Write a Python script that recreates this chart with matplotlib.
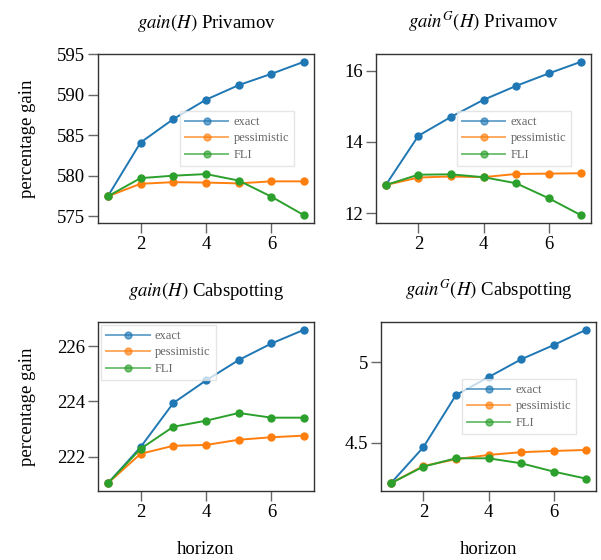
import numpy as np
import matplotlib
matplotlib.use("Agg")
import matplotlib.pyplot as plt
from matplotlib.ticker import MultipleLocator, FormatStrFormatter

plt.rcParams['font.family'] = ['Liberation Serif', 'DejaVu Serif']
plt.rcParams['mathtext.fontset'] = 'stix'
plt.rcParams['font.size'] = 13.5

# horizonte
horizon = [1, 2, 3, 4, 5, 6, 7]

# gain(H) Privamov
priv_exact = [577.45, 584.1, 587.0, 589.4, 591.2, 592.6, 594.1]
priv_pess = [577.45, 579.0, 579.2, 579.15, 579.05, 579.3, 579.3]
priv_fli = [577.45, 579.7, 580.0, 580.2, 579.4, 577.4, 575.1]

# gain^G(H) Privamov
privg_exact = [12.79, 14.17, 14.70, 15.18, 15.57, 15.92, 16.25]
privg_pess = [12.79, 13.00, 13.03, 13.01, 13.10, 13.11, 13.12]
privg_fli = [12.79, 13.08, 13.09, 13.01, 12.84, 12.42, 11.94]

# gain(H) Cabspotting
cab_exact = [221.03, 222.34, 223.94, 224.76, 225.50, 226.10, 226.60]
cab_pess = [221.03, 222.10, 222.39, 222.42, 222.61, 222.70, 222.76]
cab_fli = [221.03, 222.28, 223.08, 223.30, 223.58, 223.41, 223.41]

# gain^G(H) Cabspotting
cabg_exact = [4.246, 4.471, 4.796, 4.908, 5.019, 5.108, 5.204]
cabg_pess = [4.246, 4.354, 4.396, 4.423, 4.440, 4.448, 4.454]
cabg_fli = [4.246, 4.350, 4.402, 4.402, 4.371, 4.319, 4.275]

etiquetas = ["exact", "pessimistic", "FLI"]
colores = ["#1f77b4", "#ff7f0e", "#2ca02c"]

paneles = [
    (r"$gain(H)$ Privamov", [priv_exact, priv_pess, priv_fli], 5, "center right"),
    (r"$gain^G(H)$ Privamov", [privg_exact, privg_pess, privg_fli], 2, "center right"),
    (r"$gain(H)$ Cabspotting", [cab_exact, cab_pess, cab_fli], 2, "upper left"),
    (r"$gain^G(H)$ Cabspotting", [cabg_exact, cabg_pess, cabg_fli], 0.5, "center right"),
]

# posiciones en pixeles (izq, arriba, ancho, alto)
W, H = 601, 560
posiciones = [(98, 54, 216, 169), (376, 54, 215, 169),
              (98, 322, 216, 169), (381, 322, 215, 169)]

fig = plt.figure(figsize=(W / 100, H / 100), dpi=100)

for i, (titulo, series, paso, loc) in enumerate(paneles):
    x0, y0, w, h = posiciones[i]
    ax = fig.add_axes([x0 / W, (H - y0 - h) / H, w / W, h / H])
    for serie, etiqueta, color in zip(series, etiquetas, colores):
        ax.plot(horizon, serie, '-o', color=color, lw=1.4, ms=5, label=etiqueta)
    ax.set_title(titulo, fontsize=13.5, pad=19)
    ax.xaxis.set_major_locator(MultipleLocator(2))
    ax.yaxis.set_major_locator(MultipleLocator(paso))
    ax.yaxis.set_major_formatter(FormatStrFormatter("%g"))
    ax.tick_params(direction='out', length=7.5, width=1, color='#666666', pad=2,
                   labelsize=13.5)
    for sp in ax.spines.values():
        sp.set_color('#333333')
        sp.set_linewidth(1)
    if i % 2 == 0:
        ax.set_ylabel("percentage gain", fontsize=13.5, labelpad=15)
    if i >= 2:
        ax.set_xlabel("horizon", fontsize=13.5, labelpad=14)
    pad = 0.25 if loc == "upper left" else 1.6
    leg = ax.legend(loc=loc, fontsize=9, handlelength=3.5, handletextpad=0.4,
                    labelspacing=0.35, borderaxespad=pad, fancybox=False,
                    framealpha=0.75, edgecolor='#dddddd')
    for t in leg.get_texts():
        t.set_color('#666666')
    for lh in leg.get_lines():
        lh.set_alpha(0.65)

fig.savefig("out.png", dpi=100)
